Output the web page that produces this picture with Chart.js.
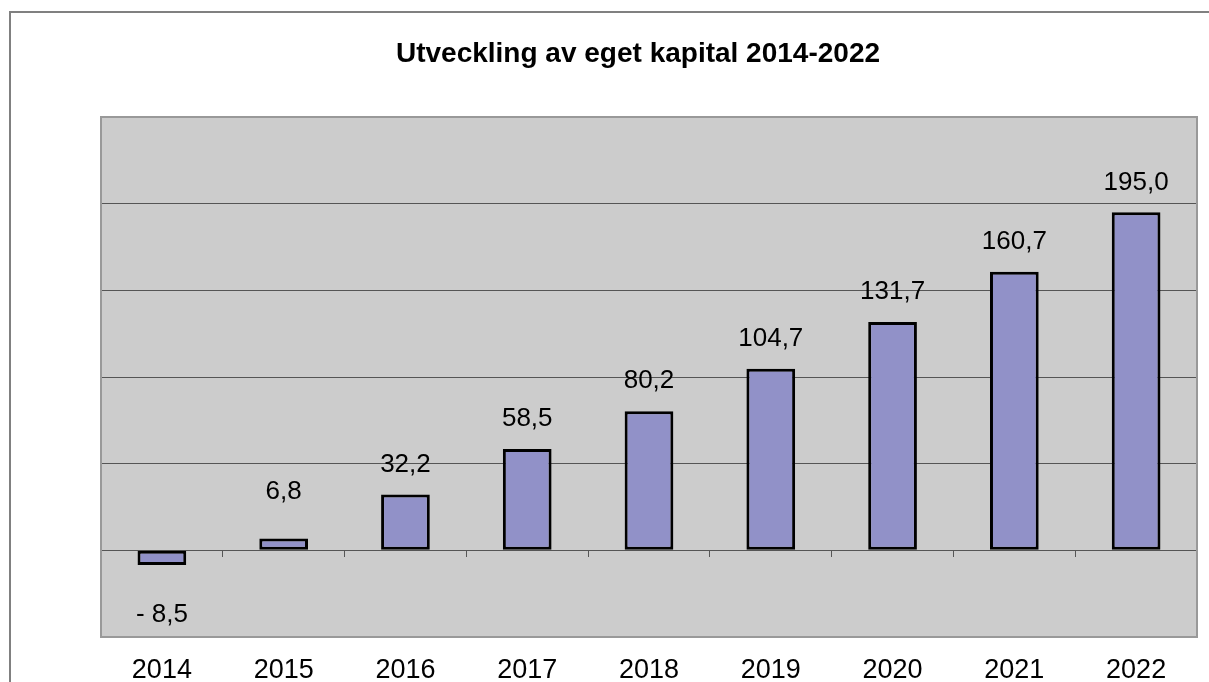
<!DOCTYPE html>
<html>
<head>
<meta charset="utf-8">
<script src="https://cdn.jsdelivr.net/npm/chart.js@4"></script>
<style>
  body { margin: 0; background: #fff; }
  #wrap { position: relative; width: 1209px; height: 682px; overflow: hidden; }
  #frame { position: absolute; left: 9px; top: 11px; width: 1400px; height: 900px; border: 2px solid #808080; }
  canvas { position: absolute; left: 0; top: 0; }
</style>
</head>
<body>
<div id="wrap">
  <div id="frame"></div>
  <canvas id="chart" width="1209" height="682"></canvas>
</div>
<script>
// Chart data
const years = ["2014", "2015", "2016", "2017", "2018", "2019", "2020", "2021", "2022"];
const equity = [-8.5, 6.8, 32.2, 58.5, 80.2, 104.7, 131.7, 160.7, 195.0];
const chartTitle = "Utveckling av eget kapital 2014-2022";

const fontFamily = "'Liberation Sans', Arial, sans-serif";

// Swedish style number, negatives shown as "- 8,5"
function formatValue(v) {
  const s = Math.abs(v).toFixed(1).replace(".", ",");
  return v < 0 ? "- " + s : s;
}

// Gray plot area with border
const plotArea = {
  id: "plotArea",
  beforeDraw(chart) {
    const { ctx, chartArea: a } = chart;
    ctx.save();
    ctx.fillStyle = "#cccccc";
    ctx.fillRect(a.left, a.top, a.right - a.left, a.bottom - a.top);
    ctx.restore();
  },
  afterDraw(chart) {
    const { ctx, chartArea: a } = chart;
    ctx.save();
    ctx.strokeStyle = "#999999";
    ctx.lineWidth = 2;
    ctx.strokeRect(a.left, a.top, a.right - a.left, a.bottom - a.top);
    ctx.restore();
  },
};

// Value labels above (or below) each bar
const valueLabels = {
  id: "valueLabels",
  afterDatasetsDraw(chart) {
    const { ctx } = chart;
    const zeroY = chart.scales.y.getPixelForValue(0);
    const meta = chart.getDatasetMeta(0);
    ctx.save();
    ctx.font = "26px " + fontFamily;
    ctx.fillStyle = "#000";
    ctx.textAlign = "center";
    ctx.textBaseline = "middle";
    meta.data.forEach((bar, i) => {
      const v = equity[i];
      let y;
      if (v >= 0) {
        y = Math.min(bar.y - 30, zeroY - 59);
      } else {
        y = Math.max(bar.y + 30, zeroY + 64);
      }
      ctx.fillText(formatValue(v), bar.x, y);
    });
    ctx.restore();
  },
};

new Chart(document.getElementById("chart"), {
  type: "bar",
  data: {
    labels: years,
    datasets: [
      {
        data: equity,
        backgroundColor: "#9191c8",
        borderColor: "#000000",
        borderWidth: 3,
        borderSkipped: false,
        barPercentage: 0.8,
        categoryPercentage: 0.5,
      },
    ],
  },
  options: {
    responsive: false,
    animation: false,
    devicePixelRatio: 1,
    layout: { padding: { left: 79, right: 12, top: 0, bottom: 0 } },
    plugins: {
      legend: { display: false },
      tooltip: { enabled: false },
      title: {
        display: true,
        text: chartTitle,
        color: "#000",
        font: { family: fontFamily, size: 28, weight: "bold" },
        padding: { top: 37, bottom: 46.4 },
      },
    },
    scales: {
      x: {
        offset: true,
        grid: { display: false, drawTicks: false, offset: true },
        border: { display: false },
        ticks: {
          color: "#000",
          padding: 17,
          font: { family: fontFamily, size: 27 },
        },
        afterFit(scale) {
          scale.height = 45;
        },
      },
      x2: {
        type: "category",
        position: { y: 0 },
        offset: true,
        grid: {
          offset: true,
          drawOnChartArea: false,
          color: "#555555",
          tickLength: 6,
        },
        border: { display: true, color: "#555555", width: 1 },
        ticks: { display: false },
        afterFit(scale) {
          scale.height = 0;
        },
      },
      y: {
        min: -50,
        max: 250,
        ticks: { display: false, stepSize: 50 },
        border: { display: false },
        grid: {
          drawTicks: false,
          color: (c) =>
            c.tick && (c.tick.value === -50 || c.tick.value === 250)
              ? "rgba(0,0,0,0)"
              : "#555555",
        },
        afterFit(scale) {
          scale.width = 22;
        },
      },
    },
  },
  plugins: [plotArea, valueLabels],
});
</script>
</body>
</html>
